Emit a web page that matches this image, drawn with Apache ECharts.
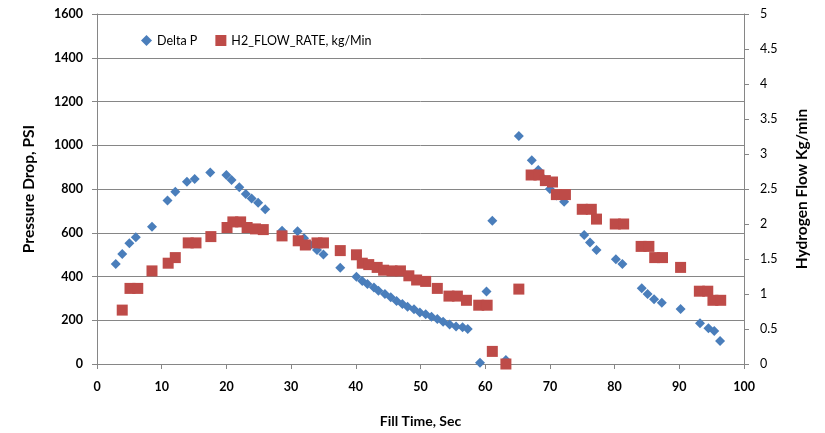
<!DOCTYPE html>
<html>
<head>
<meta charset="utf-8">
<script src="https://cdn.jsdelivr.net/npm/echarts@6/dist/echarts.min.js"></script>
<style>
	html, body { margin: 0; padding: 0; background: #fff; }
	#chart { width: 825px; height: 433px; }
</style>
</head>
<body>
<div id="chart"></div>
<script>
// Delta P (left axis, PSI)
const deltaPTime = [2.9, 3.9, 5.0, 6.0, 8.5, 10.9, 12.1, 13.9, 15.1, 17.5, 20.0, 20.8, 22.0, 23.0, 23.9, 24.9, 26.0, 28.6, 31.0, 32.0, 33.0, 34.0, 35.0, 37.6, 40.1, 41.0, 41.8, 42.8, 43.5, 44.5, 45.4, 46.3, 47.2, 48.0, 49.0, 49.9, 50.8, 51.7, 52.6, 53.5, 54.5, 55.5, 56.5, 57.3, 59.2, 60.2, 61.1, 63.2, 65.2, 67.2, 68.2, 69.1, 70.0, 71.0, 72.2, 75.3, 76.2, 77.2, 80.2, 81.2, 84.2, 85.1, 86.1, 87.3, 90.2, 93.2, 94.5, 95.4, 96.3]
const deltaPValues = [457, 503, 552, 579, 628, 748, 788, 833, 846, 876, 864, 841, 808, 777, 757, 737, 707, 609, 607, 575, 544, 521, 501, 440, 399, 379, 366, 350, 335, 320, 305, 288, 274, 262, 250, 236, 227, 216, 206, 193, 181, 172, 168, 160, 6, 331, 655, 18, 1042, 931, 887, 845, 800, 770, 742, 590, 555, 521, 479, 457, 346, 320, 296, 280, 251, 186, 163, 151, 105]

// H2 flow rate (right axis, kg/min)
const flowTime = [3.9, 5.1, 6.3, 8.5, 11.0, 12.1, 14.1, 15.3, 17.6, 20.1, 21.0, 22.2, 23.2, 24.5, 25.7, 28.6, 31.1, 32.2, 34.0, 35.0, 37.6, 40.1, 41.0, 42.0, 43.3, 44.3, 45.6, 46.9, 48.2, 49.4, 50.8, 52.6, 54.4, 55.7, 57.1, 59.0, 60.3, 61.1, 63.2, 65.2, 67.1, 68.3, 69.3, 70.4, 71.0, 72.4, 75.0, 76.4, 77.2, 80.1, 81.4, 84.1, 85.3, 86.2, 87.4, 90.2, 93.1, 94.4, 95.2, 96.4]
const flowValues = [0.77, 1.08, 1.08, 1.33, 1.44, 1.52, 1.73, 1.73, 1.82, 1.95, 2.03, 2.03, 1.95, 1.93, 1.92, 1.83, 1.76, 1.70, 1.73, 1.73, 1.62, 1.56, 1.44, 1.42, 1.38, 1.34, 1.33, 1.33, 1.26, 1.20, 1.18, 1.08, 0.97, 0.97, 0.91, 0.84, 0.84, 0.18, 0.0, 1.07, 2.70, 2.70, 2.62, 2.60, 2.42, 2.42, 2.21, 2.21, 2.07, 2.00, 2.00, 1.68, 1.68, 1.52, 1.52, 1.38, 1.04, 1.04, 0.91, 0.91]

const font = 'Lato, "Open Sans", sans-serif'

const chart = echarts.init(document.getElementById('chart'))
const option = {
	animation: false,
	backgroundColor: '#fff',
	textStyle: { fontFamily: font },
	legend: {
		left: 136,
		top: 29,
		itemGap: 18,
		itemWidth: 11,
		itemHeight: 11,
		textStyle: { fontSize: 12.5, color: '#000', fontFamily: font },
		data: [
			{ name: 'Delta P', icon: 'diamond' },
			{ name: 'H2_FLOW_RATE, kg/Min', icon: 'rect' },
		],
	},
	grid: { left: 97, right: 81, top: 14, bottom: 69 },
	xAxis: {
		type: 'value',
		min: 0,
		max: 100,
		interval: 10,
		name: 'Fill Time, Sec',
		nameLocation: 'middle',
		nameGap: 50,
		nameTextStyle: { fontSize: 14, fontWeight: 'bold', color: '#000' },
		axisLine: { show: true, lineStyle: { color: '#868686' } },
		axisTick: { show: true, inside: false, length: 5, lineStyle: { color: '#868686' } },
		axisLabel: { fontSize: 12.5, fontWeight: 'bold', color: '#000', margin: 16 },
		splitLine: { show: false },
	},
	yAxis: [
		{
			type: 'value',
			min: 0,
			max: 1600,
			interval: 200,
			name: 'Pressure Drop, PSI',
			nameLocation: 'middle',
			nameGap: 60,
			nameTextStyle: { fontSize: 15.5, fontWeight: 'bold', color: '#000' },
			axisLine: { show: true, lineStyle: { color: '#868686' } },
			axisTick: { show: true, length: 5, lineStyle: { color: '#868686' } },
			axisLabel: {
				fontSize: 12.5,
				fontWeight: 'bold',
				color: '#000',
				margin: 14,
				formatter: v => String(v),
			},
			splitLine: { show: true, lineStyle: { color: '#868686', width: 1 } },
		},
		{
			type: 'value',
			min: 0,
			max: 5,
			interval: 0.5,
			position: 'right',
			name: 'Hydrogen Flow Kg/min',
			nameLocation: 'middle',
			nameGap: 50,
			nameRotate: 90,
			nameTextStyle: { fontSize: 15.5, fontWeight: 'bold', color: '#000' },
			axisLine: { show: true, lineStyle: { color: '#868686' } },
			axisTick: { show: true, length: 5, lineStyle: { color: '#868686' } },
			axisLabel: { fontSize: 12.5, color: '#000', margin: 16 },
			splitLine: { show: false },
		},
	],
	series: [
		{
			name: 'Delta P',
			type: 'scatter',
			yAxisIndex: 0,
			symbol: 'diamond',
			symbolSize: 10,
			itemStyle: { color: '#4A7EBB', opacity: 1 },
			data: deltaPTime.map((t, i) => [t, deltaPValues[i]]),
		},
		{
			name: 'H2_FLOW_RATE, kg/Min',
			type: 'scatter',
			yAxisIndex: 1,
			symbol: 'rect',
			symbolSize: 11,
			itemStyle: { color: '#BE4B48', opacity: 1 },
			data: flowTime.map((t, i) => [t, flowValues[i]]),
		},
	],
}
chart.setOption(option)
</script>
</body>
</html>
